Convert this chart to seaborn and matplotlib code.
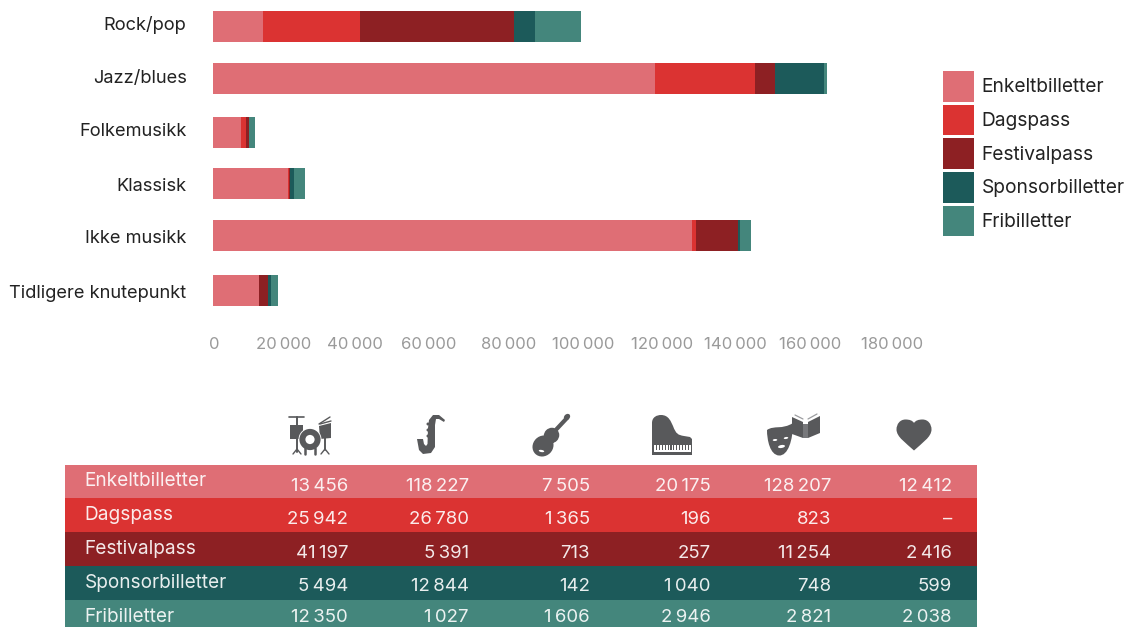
import numpy as np
import pandas as pd
import matplotlib
matplotlib.use("Agg")
import matplotlib.pyplot as plt
from matplotlib.patches import Rectangle, Circle, Ellipse, Polygon, PathPatch
from matplotlib.path import Path
from matplotlib.transforms import Affine2D
import seaborn as sns

categories = ["Rock/pop", "Jazz/blues", "Folkemusikk", "Klassisk", "Ikke musikk", "Tidligere knutepunkt"]
enkelt = [13456, 118227, 7505, 20175, 128207, 12412]
dagspass = [25942, 26780, 1365, 196, 823, 0]
festival = [41197, 5391, 713, 257, 11254, 2416]
sponsor = [5494, 12844, 142, 1040, 748, 599]
fri = [12350, 1027, 1606, 2946, 2821, 2038]
series_names = ["Enkeltbilletter", "Dagspass", "Festivalpass", "Sponsorbilletter", "Fribilletter"]
series_values = [enkelt, dagspass, festival, sponsor, fri]
colors = ["#DF6E75", "#DB3332", "#8D2023", "#1C5A5A", "#44867C"]
tick_values = list(range(0, 180001, 20000))

W, H = 1129, 627
sns.set_theme(style="white")
plt.rcParams["font.family"] = ["Inter", "DejaVu Sans"]
fig = plt.figure(figsize=(W / 100, H / 100), dpi=100)

def fmt(v):
    return f"{v:,}".replace(",", "\u2009") if v else "–"

# Chart axes, pixel extents: x 213..886.2, y 0..330
AX_L, AX_R, AX_B = 213, 886.2, 330
ax = fig.add_axes([AX_L / W, 1 - AX_B / H, (AX_R - AX_L) / W, AX_B / H])
STEP = 52.8
left = np.zeros(len(categories))
for name, vals, col in zip(series_names, series_values, colors):
    sns.barplot(x=vals, y=categories, left=left, color=col, saturation=1, linewidth=0,
                width=31 / STEP, ax=ax, label=name, legend=False)
    left += np.array(vals)
ax.set_xlim(0, 180000)
ax.set_ylim((AX_B - 26.5) / STEP, -26.5 / STEP)
sns.despine(ax=ax, left=True, bottom=True, top=True, right=True)

# small per-row placement corrections (pixels)
row_nudge = [0, -0.8, 0.4, -1.4, -2.2, 0]
for p in ax.patches:
    r = int(round(p.get_y() + p.get_height() / 2))
    p.set_y(p.get_y() + row_nudge[r] / STEP)

ax.set_xticks(tick_values)
ax.set_xticklabels([fmt(v) if v else "0" for v in tick_values])
ax.tick_params(axis="x", length=0, pad=5.2, labelsize=12, labelcolor="#9A9A9A")
ax.tick_params(axis="y", length=0, pad=19, labelsize=13.15, labelcolor="#222222")
ax.set_xlabel(""); ax.set_ylabel("")

x_label_dx = [1.5, -4.3, -8.1, -8.4, -3.7, -4, 0, -1, -1.4, 6.3]
for lab, dx in zip(ax.get_xticklabels(), x_label_dx):
    lab.set_transform(lab.get_transform() + Affine2D().translate(dx, 0))
y_label_dy = [3.5, 2.7, 3.0, 0.5, 1.5, -0.5]
for lab, dy in zip(ax.get_yticklabels(), y_label_dy):
    lab.set_transform(lab.get_transform() + Affine2D().translate(0, dy))

# Legend
handles = [Rectangle((0, 0), 1, 1, color=c, lw=0) for c in colors]
fig.legend(handles, series_names, loc="upper left", bbox_to_anchor=(943 / W, 1 - 71 / H),
           bbox_transform=fig.transFigure, frameon=False, fontsize=13.8, borderpad=0, borderaxespad=0,
           handlelength=1.617, handleheight=2.1, labelspacing=0.145, handletextpad=0.41,
           labelcolor="#222222")

# Overlay in pixel coordinates for table and icons
ov = fig.add_axes([0, 0, 1, 1], facecolor="none")
ov.set_xlim(0, W); ov.set_ylim(H, 0); ov.axis("off")

row_edges = [465, 498, 532, 566, 600, 627]
label_base = [486, 520, 554, 588, 622]
value_base = [491, 524, 558, 591, 622]
col_right = [348, 469, 590, 711, 831, 952]
for i, (name, vals, col) in enumerate(zip(series_names, series_values, colors)):
    ov.add_patch(Rectangle((65, row_edges[i]), 912, row_edges[i + 1] - row_edges[i], color=col, lw=0))
    ov.text(84.5, label_base[i], name, color="white", fontsize=13.7, va="baseline", ha="left", alpha=0.9)
    for v, xr in zip(vals, col_right):
        ov.text(xr, value_base[i], fmt(v), color="white", fontsize=13.4, va="baseline", ha="right", alpha=0.9)

# Icons
IC = "#58595B"
def poly(pts, c=IC, **k):
    ov.add_patch(Polygon(pts, closed=True, color=c, lw=0, **k))
def line(pts, w=1.0, c=IC):
    a = np.array(pts)
    ov.plot(a[:, 0], a[:, 1], color=c, lw=w, solid_capstyle="round")

# drums
line([(289, 416.5), (304, 416.5)], 1.2)
line([(297, 416.5), (297, 452)], 1.4)
line([(297, 449), (293, 454)], 1.0); line([(297, 449), (301, 454)], 1.0)
line([(325, 436), (325, 450)], 1.4)
line([(325, 449), (321, 454)], 1.0); line([(325, 449), (329, 454)], 1.0)
poly([(290, 425), (303, 425), (303, 439), (290, 439)])
poly([(319, 426), (331, 423), (331, 438), (320, 439)])
line([(319, 424), (330, 417)], 1.0)
line([(320, 424), (331, 421)], 1.0)
line([(305, 448), (305, 454)], 1.8); line([(315, 448), (315, 454)], 1.8)
ov.add_patch(Circle((310, 439.5), 11.5, color="white", lw=0))
ov.add_patch(Circle((310, 439.5), 10.6, color=IC, lw=0))
ov.add_patch(Circle((310, 439.5), 4.6, color="white", lw=0))

# saxophone
poly([(417, 439), (423, 439), (424, 444), (426, 446), (427.5, 444), (428, 428), (429, 420), (433, 415),
      (439, 415), (445, 420), (444, 422), (439, 419), (436, 419), (435, 425), (435, 447), (431, 453),
      (423, 454), (419, 450)])
for yy in (424, 430, 436):
    ov.add_patch(Circle((428, yy), 1.5, color=IC, lw=0))

# violin
ov.add_patch(Ellipse((543, 446), 22, 20, angle=-45, color=IC, lw=0))
ov.add_patch(Ellipse((551.5, 435.5), 16, 15, angle=-45, color=IC, lw=0))
poly([(540, 440), (549, 431), (556, 440), (548, 449)])
line([(552, 434), (567, 418)], 3.0)
ov.add_patch(Ellipse((567, 417), 7, 5.5, angle=-45, color=IC, lw=0))
ov.add_patch(Ellipse((541.5, 451), 5.5, 2.2, angle=10, color="white", lw=0))

# piano
piano = Path([(652, 443), (652, 423), (652, 417), (657, 415), (661, 415), (669, 415), (671, 422), (673, 426),
              (676, 434), (678, 435), (684, 436), (690, 437), (692, 439), (692, 443), (652, 443)],
             [1, 2, 4, 4, 4, 4, 4, 4, 4, 4, 4, 2, 2, 2, 79])
ov.add_patch(PathPatch(piano, color=IC, lw=0))
ov.add_patch(Rectangle((652, 443), 40, 11.5, color=IC, lw=0))
ov.add_patch(Rectangle((653.5, 444.5), 37, 7.5, color="white", lw=0))
for kx in np.arange(656, 690, 2.9):
    ov.add_patch(Rectangle((kx, 444.5), 1.1, 5.5, color=IC, lw=0))

# mask and book
mask = Path([(767, 430), (774, 425), (782, 430), (793, 423), (793, 440), (788, 456), (779, 455.5),
             (770, 455), (767, 440), (767, 430), (767, 430)],
            [1, 4, 4, 2, 4, 4, 4, 4, 4, 2, 79])
ov.add_patch(PathPatch(mask, color=IC, lw=0))
ov.add_patch(Ellipse((775, 440), 4.5, 2, angle=-5, color="white", lw=0))
ov.add_patch(Ellipse((786, 438), 4.5, 2, angle=-10, color="white", lw=0))
ov.add_patch(Ellipse((781.5, 446.5), 7, 3, angle=-10, color="white", lw=0))
poly([(792, 417), (803, 422), (803, 438), (792, 434)])
poly([(808, 422), (820, 416), (820, 433), (808, 438)])
poly([(803, 424), (808, 424), (808, 438), (803, 438)], c="#77787B")
line([(795, 415), (803, 419)], 0.9, "#9C9DA0")
line([(808, 419), (817, 414)], 0.9, "#9C9DA0")

# heart
heart = Path([(914, 450.5), (906, 443), (896.5, 437), (896.5, 429.5), (896.5, 424), (900, 419.5), (905.5, 419.5),
              (909.5, 419.5), (912.5, 420.5), (914, 423), (915.5, 420.5), (918.5, 419.5), (922.5, 419.5),
              (928, 419.5), (931.5, 424), (931.5, 429.5), (931.5, 437), (922, 443), (914, 450.5), (914, 450.5)],
             [1, 4, 4, 4, 4, 4, 4, 4, 4, 4, 4, 4, 4, 4, 4, 4, 4, 4, 4, 79])
ov.add_patch(PathPatch(heart, color=IC, lw=0))

fig.savefig("out.png", dpi=100)
